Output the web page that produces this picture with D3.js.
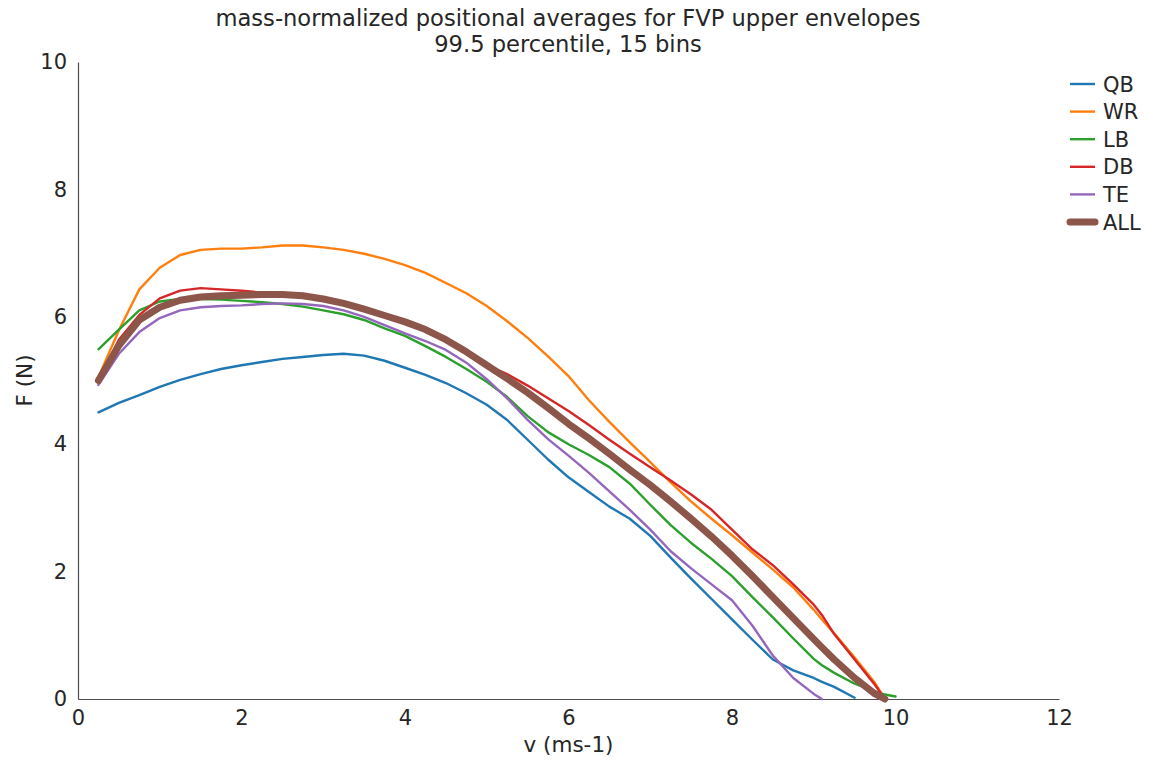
<!DOCTYPE html>
<html>
<head>
<meta charset="utf-8">
<script src="https://cdn.jsdelivr.net/npm/d3@7"></script>
<style>
  body { margin: 0; background: #fff; }
  svg text { font-family: "DejaVu Sans", sans-serif; fill: #262626; }
</style>
</head>
<body>
<svg width="1153" height="761"></svg>
<script>
// velocity bins (m/s)
const velocity = [0.25, 0.5, 0.75, 1.0, 1.25, 1.5, 1.75, 2.0, 2.25, 2.5, 2.75, 3.0, 3.25, 3.5, 3.75,
  4.0, 4.25, 4.5, 4.75, 5.0, 5.25, 5.5, 5.75, 6.0, 6.25, 6.5, 6.75, 7.0, 7.25, 7.5, 7.75,
  8.0, 8.25, 8.5, 8.75, 9.0, 9.1, 9.25, 9.5, 9.75, 9.87, 10.0];

const qb = [4.50, 4.65, 4.77, 4.90, 5.01, 5.10, 5.18, 5.24, 5.29, 5.34, 5.37, 5.40, 5.42, 5.39, 5.31,
  5.20, 5.09, 4.96, 4.80, 4.62, 4.38, 4.07, 3.76, 3.48, 3.25, 3.02, 2.83, 2.56, 2.22, 1.89, 1.57,
  1.25, 0.93, 0.62, 0.45, 0.33, 0.27, 0.19, 0.02, null, null, null];

const wr = [5.05, 5.79, 6.43, 6.77, 6.97, 7.05, 7.07, 7.07, 7.09, 7.12, 7.12, 7.09, 7.05, 6.99, 6.91,
  6.81, 6.69, 6.53, 6.37, 6.17, 5.93, 5.67, 5.38, 5.07, 4.69, 4.35, 4.03, 3.72, 3.40, 3.10, 2.83,
  2.57, 2.30, 2.03, 1.75, 1.40, 1.25, 1.03, 0.65, 0.25, 0.0, null];

const lb = [5.49, 5.80, 6.10, 6.24, 6.28, 6.28, 6.27, 6.25, 6.23, 6.20, 6.16, 6.10, 6.04, 5.95, 5.82,
  5.70, 5.54, 5.37, 5.18, 4.98, 4.74, 4.44, 4.19, 4.00, 3.83, 3.64, 3.38, 3.05, 2.73, 2.45, 2.20,
  1.93, 1.60, 1.28, 0.95, 0.63, 0.53, 0.41, 0.24, 0.12, 0.07, 0.04];

const db = [5.00, 5.64, 6.03, 6.29, 6.41, 6.45, 6.43, 6.41, 6.38, 6.36, 6.34, 6.29, 6.22, 6.13, 6.03,
  5.92, 5.80, 5.64, 5.45, 5.24, 5.10, 4.92, 4.72, 4.52, 4.30, 4.07, 3.85, 3.64, 3.43, 3.21, 2.97,
  2.66, 2.35, 2.10, 1.80, 1.48, 1.32, 1.02, 0.62, 0.22, 0.0, null];

const te = [4.93, 5.42, 5.76, 5.98, 6.10, 6.15, 6.17, 6.18, 6.20, 6.21, 6.20, 6.17, 6.10, 6.00, 5.87,
  5.74, 5.62, 5.48, 5.28, 5.02, 4.72, 4.38, 4.08, 3.82, 3.55, 3.26, 2.97, 2.66, 2.32, 2.05, 1.80,
  1.55, 1.15, 0.68, 0.33, 0.08, 0.0, null, null, null, null, null];

const all = [5.00, 5.55, 5.95, 6.15, 6.26, 6.31, 6.33, 6.34, 6.35, 6.35, 6.33, 6.28, 6.21, 6.12, 6.02,
  5.92, 5.80, 5.64, 5.45, 5.24, 5.03, 4.81, 4.57, 4.32, 4.09, 3.85, 3.60, 3.36, 3.10, 2.83, 2.55,
  2.25, 1.93, 1.60, 1.27, 0.94, 0.81, 0.62, 0.33, 0.08, 0.0, null];

const positions = ["QB", "WR", "LB", "DB", "TE", "ALL"];
const seriesValues = [qb, wr, lb, db, te, all];
const colors = ["#1f77b4", "#ff7f0e", "#2ca02c", "#d62728", "#9467bd", "#8c564b"];

const xTicks = [0, 2, 4, 6, 8, 10, 12];
const yTicks = [0, 2, 4, 6, 8, 10];
const titleLines = ["mass-normalized positional averages for FVP upper envelopes", "99.5 percentile, 15 bins"];

const svg = d3.select("svg");
const margin = {left: 78, right: 94, top: 62, bottom: 62};
const width = 1153, height = 761;

const x = d3.scaleLinear().domain([0, 12]).range([margin.left, width - margin.right]);
const y = d3.scaleLinear().domain([0, 10]).range([height - margin.bottom, margin.top]);

// title, two lines
titleLines.forEach(function(t, i){
	svg.append("text")
	   .attr("x", 568).attr("y", 26 + i * 26)
	   .attr("text-anchor", "middle")
	   .attr("font-size", 22.6)
	   .text(t);
});

// axes, no tick marks, only the left and bottom spines
const xAxis = svg.append("g")
   .attr("transform", `translate(0,${y(0)})`)
   .call(d3.axisBottom(x).tickValues(xTicks).tickSize(0).tickPadding(11));
const yAxis = svg.append("g")
   .attr("transform", `translate(${x(0)},0)`)
   .call(d3.axisLeft(y).tickValues(yTicks).tickSize(0).tickPadding(11));

[xAxis, yAxis].forEach(function(g){
	g.selectAll("text").attr("font-size", 21).attr("font-family", "DejaVu Sans").attr("fill", "#262626");
	g.select(".domain").attr("stroke", "#4d4d4d").attr("stroke-width", 1.2);
});

svg.append("text")
   .attr("x", x(6)).attr("y", 752)
   .attr("text-anchor", "middle")
   .attr("font-size", 21.5)
   .text("v (ms-1)");
svg.append("text")
   .attr("transform", `translate(32,${y(5)}) rotate(-90)`)
   .attr("text-anchor", "middle")
   .attr("font-size", 21.5)
   .text("F (N)");

// lines
const line = d3.line()
   .defined(function(d){return d[1] !== null})
   .x(function(d){return x(d[0])})
   .y(function(d){return y(d[1])});

seriesValues.forEach(function(vals, i){
	const pts = velocity.map(function(v, j){return [v, vals[j]]});
	svg.append("path")
	   .datum(pts)
	   .attr("fill", "none")
	   .attr("stroke", colors[i])
	   .attr("stroke-width", positions[i] === "ALL" ? 7 : 2.4)
	   .attr("stroke-linejoin", "round")
	   .attr("stroke-linecap", "round")
	   .attr("d", line);
});

// legend
const legend = svg.append("g").attr("transform", "translate(1070,84)");
positions.forEach(function(p, i){
	const row = legend.append("g").attr("transform", `translate(0,${i * 27.6})`);
	row.append("line")
	   .attr("x1", 0).attr("x2", 25)
	   .attr("stroke", colors[i])
	   .attr("stroke-width", p === "ALL" ? 7 : 2.4)
	   .attr("stroke-linecap", p === "ALL" ? "round" : "butt");
	row.append("text")
	   .attr("x", 33).attr("y", 7.5)
	   .attr("font-size", 21)
	   .text(p);
});
</script>
</body>
</html>
